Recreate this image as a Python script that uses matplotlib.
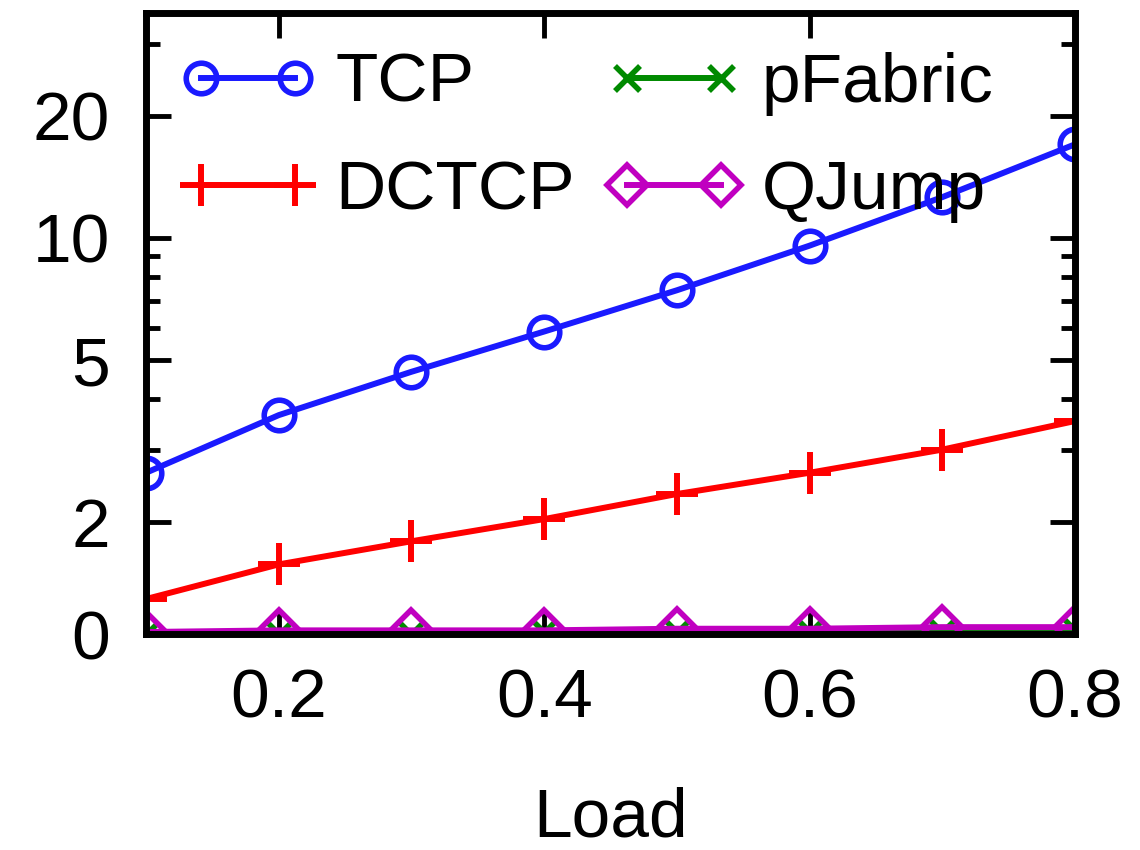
import matplotlib
matplotlib.use("Agg")
import matplotlib.pyplot as plt
from matplotlib.ticker import FixedLocator, NullFormatter

plt.rcParams['font.family'] = ['Liberation Sans', 'DejaVu Sans']

loads = [0.1, 0.2, 0.3, 0.4, 0.5, 0.6, 0.7, 0.8]
tcp = [2.64, 3.66, 4.68, 5.88, 7.43, 9.57, 12.6, 17.0]
dctcp = [1.29, 1.57, 1.79, 2.03, 2.34, 2.64, 3.01, 3.54]
pfabric = [1.06, 1.06, 1.06, 1.07, 1.07, 1.07, 1.07, 1.08]
qjump = [1.07, 1.08, 1.08, 1.08, 1.09, 1.09, 1.10, 1.10]

ytick_vals = [1.058, 2, 5, 10, 20]
ytick_labels = ["0", "2", "5", "10", "20"]
yminor_vals = [3, 4, 6, 7, 8, 9, 30]
xtick_vals = [0.2, 0.4, 0.6, 0.8]
xtick_labels = ["0.2", "0.4", "0.6", "0.8"]

fig = plt.figure(figsize=(11.4, 8.5), dpi=100)
ax = fig.add_axes([146/1140, 1 - 634/850, (1075-146)/1140, (634-13)/850])

lw = 4.3
ax.plot(loads, tcp, color='#1a1aff', lw=lw, marker='o', ms=22, mfc='none',
        mew=4, label='TCP')
ax.plot(loads, dctcp, color='#ff0000', lw=lw, marker='+', ms=30,
        mew=4.3, label='DCTCP')
ax.plot(loads, pfabric, color='#008a00', lw=lw, marker='x', ms=18,
        mew=4, label='pFabric')
ax.plot(loads, qjump, color='#c000c0', lw=lw, marker='D', ms=20, mfc='none',
        mew=4, label='QJump')

ax.set_yscale('log')
ax.set_xlim(0.1, 0.8)
ax.set_ylim(1.058, 35.8)

ax.yaxis.set_major_locator(FixedLocator(ytick_vals))
ax.set_yticklabels(ytick_labels)
ax.yaxis.set_minor_locator(FixedLocator(yminor_vals))
ax.yaxis.set_minor_formatter(NullFormatter())
ax.set_xticks(xtick_vals)
ax.set_xticklabels(xtick_labels)
ax.xaxis.set_minor_locator(FixedLocator([]))

for s in ax.spines.values():
    s.set_linewidth(5)

ax.tick_params(which='both', direction='in', top=True, right=True,
               labelsize=50, width=3.5)
ax.tick_params(which='major', length=18)
ax.tick_params(which='minor', length=10)
ax.tick_params(axis='y', pad=26)
ax.tick_params(axis='x', pad=24)

ax.set_xlabel('Load', fontsize=50, labelpad=40)

handles, labels = ax.get_legend_handles_labels()
order = [0, 1, 2, 3]
leg = ax.legend([handles[i] for i in order], [labels[i] for i in order],
                ncol=2, loc='upper left', bbox_to_anchor=(180/1140, 1 - 52/850),
                bbox_transform=fig.transFigure, frameon=False, fontsize=50,
                numpoints=2, handlelength=1.95, handletextpad=0.29,
                columnspacing=0.45, borderpad=0, borderaxespad=0,
                labelspacing=0.62)

fig.savefig('out.png', dpi=100)
